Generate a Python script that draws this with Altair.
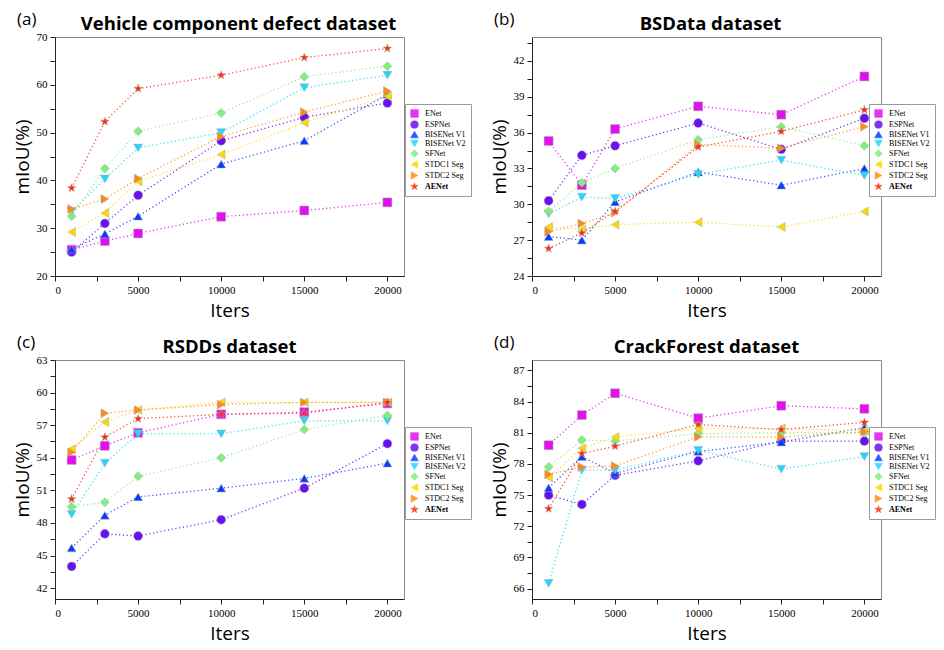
import altair as alt
import pandas as pd

iters = [1000, 3000, 5000, 10000, 15000, 20000]
models = ["ENet", "ESPNet", "BISENet V1", "BISENet V2", "SFNet", "STDC1 Seg", "STDC2 Seg", "AENet"]
colors = ["#e010f0", "#6a10f0", "#0a3cff", "#20d8ff", "#7ef07e", "#ffd800", "#ff8a10", "#ff2a10"]
star = "M0,-1L0.235,-0.324L0.951,-0.309L0.38,0.124L0.588,0.809L0,0.4L-0.588,0.809L-0.38,0.124L-0.951,-0.309L-0.235,-0.324Z"
shapes = ["square", "circle", "triangle-up", "triangle-down", "diamond", "triangle-left", "triangle-right", star]

vehicle = {
    "ENet":       [25.5, 27.3, 28.9, 32.4, 33.7, 35.4],
    "ESPNet":     [25.0, 31.0, 36.9, 48.3, 53.2, 56.2],
    "BISENet V1": [25.6, 28.8, 32.5, 43.4, 48.3, 58.0],
    "BISENet V2": [33.5, 40.3, 46.8, 50.0, 59.4, 62.0],
    "SFNet":      [32.5, 42.5, 50.3, 54.1, 61.7, 63.9],
    "STDC1 Seg":  [29.2, 33.2, 39.8, 45.4, 52.1, 57.6],
    "STDC2 Seg":  [34.0, 36.1, 40.4, 49.2, 54.3, 58.7],
    "AENet":      [38.4, 52.3, 59.2, 62.0, 65.7, 67.6],
}
bsdata = {
    "ENet":       [35.3, 31.6, 36.3, 38.2, 37.5, 40.7],
    "ESPNet":     [30.3, 34.1, 34.9, 36.8, 34.6, 37.2],
    "BISENet V1": [27.3, 27.0, 30.2, 32.7, 31.6, 33.0],
    "BISENet V2": [29.2, 30.6, 30.5, 32.5, 33.7, 32.4],
    "SFNet":      [29.4, 31.8, 33.0, 35.4, 36.5, 34.9],
    "STDC1 Seg":  [28.1, 27.9, 28.3, 28.5, 28.1, 29.4],
    "STDC2 Seg":  [27.7, 28.4, 29.3, 35.0, 34.7, 36.5],
    "AENet":      [26.3, 27.6, 29.4, 34.8, 36.1, 37.9],
}
rsdds = {
    "ENet":       [53.8, 55.1, 56.3, 58.0, 58.2, 59.0],
    "ESPNet":     [44.0, 47.0, 46.8, 48.3, 51.2, 55.3],
    "BISENet V1": [45.7, 48.7, 50.4, 51.2, 52.1, 53.5],
    "BISENet V2": [48.8, 53.5, 56.2, 56.2, 57.4, 57.4],
    "SFNet":      [49.5, 49.9, 52.3, 54.0, 56.6, 57.9],
    "STDC1 Seg":  [54.8, 57.3, 58.4, 59.1, 59.1, 59.1],
    "STDC2 Seg":  [54.5, 58.1, 58.4, 58.9, 59.1, 59.1],
    "AENet":      [50.2, 55.9, 57.6, 58.0, 58.1, 59.1],
}
crackforest = {
    "ENet":       [79.8, 82.7, 84.8, 82.4, 83.6, 83.3],
    "ESPNet":     [75.0, 74.1, 76.9, 78.3, 80.2, 80.2],
    "BISENet V1": [75.7, 78.7, 77.1, 79.2, 80.1, 81.5],
    "BISENet V2": [66.5, 77.4, 77.4, 79.3, 77.5, 78.7],
    "SFNet":      [77.7, 80.3, 80.2, 80.9, 81.0, 81.0],
    "STDC1 Seg":  [76.7, 79.5, 80.6, 81.4, 81.4, 81.2],
    "STDC2 Seg":  [77.0, 77.7, 77.8, 80.6, 80.6, 81.1],
    "AENet":      [73.7, 79.0, 79.7, 81.8, 81.3, 82.0],
}

W, H = 349, 239


def to_df(vals):
    rows = []
    for m in models:
        for it, v in zip(iters, vals[m]):
            rows.append({"iters": it, "miou": v, "model": m})
    return pd.DataFrame(rows)


def frange(a, b, s):
    out = []
    v = a
    while v <= b + 1e-9:
        out.append(round(v, 3))
        v += s
    return out


def panel(title, letter, vals, ydom, ybase, ystep, yminor, tdx, lx):
    df = to_df(vals)
    xaxis = alt.Axis(
        values=frange(0, 20000, 2500),
        labelExpr="datum.value % 5000 == 0 ? datum.label : ''",
        format="d", title="Iters", grid=False,
    )
    yaxis = alt.Axis(
        values=frange(ybase, ydom[1], yminor),
        labelExpr=f"(datum.value - {ybase}) % {ystep} == 0 ? datum.label : ''",
        title="mIoU(%)", grid=False,
    )
    x = alt.X("iters:Q", scale=alt.Scale(domain=[0, 21000], nice=False, zero=False), axis=xaxis)
    y = alt.Y("miou:Q", scale=alt.Scale(domain=ydom, nice=False, zero=False), axis=yaxis)
    cscale = alt.Scale(domain=models, range=colors)
    sscale = alt.Scale(domain=models, range=shapes)
    leg = alt.Legend(
        title=None, orient="none", legendX=lx, legendY=67,
        fillColor="white", strokeColor="#9a9a9a", padding=5,
        labelFont="Liberation Serif", labelFontSize=8, labelOffset=6,
        labelFontWeight=alt.ExprRef("datum.label == 'AENet' ? 'bold' : 'normal'"),
        symbolSize=60, rowPadding=0, symbolStrokeColor="#aaaaaa", symbolStrokeWidth=0.5,
    )
    lines = alt.Chart(df).mark_line(strokeDash=[1.2, 2.6], strokeWidth=1.3, opacity=0.85).encode(
        x=x, y=y, color=alt.Color("model:N", scale=cscale, legend=leg), order=alt.Order("iters:Q")
    )
    points = alt.Chart(df).mark_point(filled=True, opacity=1, size=80, stroke="#aaaaaa", strokeWidth=0.5).encode(
        x=x, y=y,
        color=alt.Color("model:N", scale=cscale, legend=leg),
        shape=alt.Shape("model:N", scale=sscale, legend=leg),
    )
    lab = alt.Chart(pd.DataFrame({"t": [letter]})).mark_text(
        align="left", baseline="alphabetic", font="Open Sans", fontSize=17, color="black"
    ).encode(text="t:N", x=alt.value(-38), y=alt.value(-12))
    ttl = alt.Chart(pd.DataFrame({"t": [title]})).mark_text(
        align="center", baseline="alphabetic", font="Open Sans", fontSize=18.5, fontWeight="bold", color="black"
    ).encode(text="t:N", x=alt.value(W / 2 + tdx), y=alt.value(-7))
    return alt.layer(lines, points, lab, ttl).properties(width=W, height=H).resolve_scale(
        color="shared", shape="shared")


pa = panel("Vehicle component defect dataset", "(a)", vehicle, [20, 70], 20, 10, 5, 9, W + 1)
pb = panel("BSData dataset", "(b)", bsdata, [24, 44], 24, 3, 1.5, 4, W - 12)
pc = panel("RSDDs dataset", "(c)", rsdds, [41, 63], 42, 3, 1.5, 0, W + 1)
pd_ = panel("CrackForest dataset", "(d)", crackforest, [65, 88], 66, 3, 1.5, 0, W - 12)

chart = alt.concat(
    pa, pb, pc, pd_, columns=2, spacing=alt.RowColnumber(row=84, column=128), bounds="flush"
).resolve_scale(
    color="independent", shape="independent", x="independent", y="independent"
).configure_view(
    stroke="#8a8a8a", strokeWidth=1
).configure_axis(
    labelFont="Liberation Serif", labelFontSize=11, labelColor="black",
    titleFont="Open Sans", titleFontSize=19, titleFontWeight="normal", titleColor="black",
    domainColor="#222222", tickColor="#222222", tickSize=5, labelPadding=3,
).configure_axisX(titlePadding=6).configure_axisY(titlePadding=4).properties(
    padding={"left": 4, "top": 2, "right": 0, "bottom": 0}
)

chart.save("out.html", embed_options={"renderer": "svg", "actions": False})
